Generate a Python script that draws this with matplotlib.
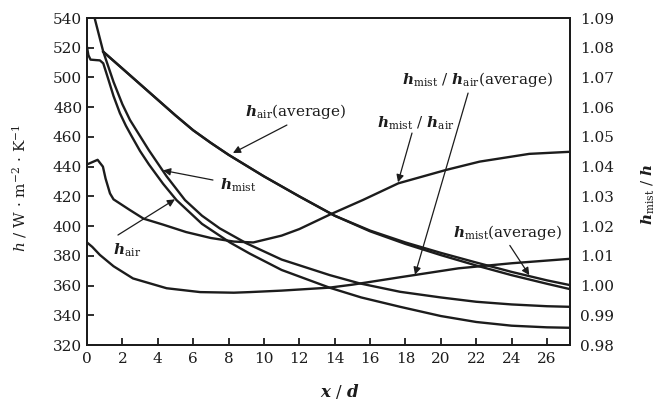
import matplotlib
matplotlib.use("Agg")
import matplotlib.pyplot as plt

plt.rcParams["font.family"] = "DejaVu Serif"
plt.rcParams["mathtext.fontset"] = "dejavuserif"
plt.rcParams["font.size"] = 11

INK = "#1c1c1c"

# --- data ---
# left axis, h in W/(m2 K)
x_air = [0, 0.08, 0.2, 0.5, 0.73, 0.92, 1.2, 1.5, 1.86, 2.2, 2.5, 3.0, 3.5, 4.3, 5.06,
         6.5, 8.08, 9.2, 11, 13.73, 15.5, 17.7, 20, 22, 24, 26, 27.3]
h_air = [520.5, 515, 512, 511.7, 511.5, 509.5, 499, 487.5, 476, 467.5, 461, 450.5, 441.5,
         428.5, 417.5, 401.5, 389, 381.5, 370.5, 358.5, 352, 345.7, 339.5, 335.5, 333,
         331.9, 331.6]

x_mist = [0.42, 0.92, 1.5, 2.0, 2.43, 3.5, 4.5, 5.54, 6.5, 7.5, 9.02, 11, 13.73, 15.4,
          17.7, 20, 22, 24, 26, 27.3]
h_mist = [540.5, 517.3, 497, 482, 471.4, 451, 433.5, 417.5, 407, 398.5, 388.4, 377.5,
          367, 361.5, 355.8, 352, 349.1, 347.3, 346.1, 345.7]

x_avg = [0.92, 2, 3, 4, 5, 6, 7, 8, 10, 12, 14, 16, 18, 20, 22, 24, 26, 27.3]
h_air_avg = [517.3, 506, 495.5, 485, 474.5, 464.5, 456, 448, 433.5, 420, 407, 396.5,
             388, 380.5, 373.5, 367, 361.2, 357.6]
h_mist_avg = [517.3, 506, 495.5, 485, 474.5, 464.5, 456, 448, 433.5, 420, 407, 397,
              389, 382, 375.5, 369.2, 363.5, 360.3]

# right axis, h_mist / h
x_ratio = [0.1, 0.6, 0.9, 1.05, 1.3, 1.5, 2.4, 3.2, 4.3, 5.6, 7.0, 8.3, 9.4, 11, 12,
           13.7, 15.6, 17.6, 20.3, 22.2, 25.0, 27.3]
ratio = [1.0410, 1.0423, 1.0400, 1.0360, 1.0310, 1.0290, 1.0255, 1.0225, 1.0205, 1.0180,
         1.0160, 1.0148, 1.0145, 1.0168, 1.0190, 1.0238, 1.0288, 1.0344, 1.0389, 1.0417,
         1.0443, 1.0450]

x_ratio_avg = [0, 0.3, 0.73, 1.5, 2.6, 4.5, 6.4, 8.3, 9.2, 11, 13.7, 15, 17.7, 21, 24, 27.3]
ratio_avg = [1.0145, 1.0130, 1.0103, 1.0065, 1.0024, 0.9991, 0.9978, 0.9976, 0.9978,
             0.9983, 0.9993, 1.0003, 1.0028, 1.0058, 1.0075, 1.0090]

x_ticks = list(range(0, 27, 2))
h_ticks = list(range(320, 541, 20))
r_ticks = [0.98 + 0.01 * i for i in range(12)]

fig = plt.figure(figsize=(6.6, 4.04), dpi=100)
ax = fig.add_axes([0.1318, 0.146, 0.7318, 0.8094])
ax2 = ax.twinx()

lw = 1.7
ax.plot(x_air, h_air, color=INK, lw=lw)
ax.plot(x_mist, h_mist, color=INK, lw=lw)
ax.plot(x_avg, h_air_avg, color=INK, lw=lw)
ax.plot(x_avg, h_mist_avg, color=INK, lw=lw)
ax2.plot(x_ratio, ratio, color=INK, lw=lw)
ax2.plot(x_ratio_avg, ratio_avg, color=INK, lw=lw)

ax.set_xlim(0, 27.3)
ax.set_ylim(320, 540)
ax2.set_ylim(0.98, 1.09)
ax.set_xticks(x_ticks)
ax.set_yticks(h_ticks)
ax2.set_yticks(r_ticks)
ax2.set_yticklabels([f"{v:.2f}" for v in r_ticks])

for a in (ax, ax2):
    for s in a.spines.values():
        s.set_linewidth(1.4)
        s.set_color(INK)
ax.tick_params(axis="both", direction="in", length=5, width=1.3, colors=INK, labelsize=11)
ax.tick_params(axis="x", pad=5)
ax2.tick_params(axis="y", length=0, colors=INK, labelsize=11, pad=7)

fig.text(0.03, 0.535, r"$\mathit{h}$ / W · m$^{-2}$ · K$^{-1}$", rotation=90,
         ha="center", va="center", fontsize=11, color=INK)
fig.text(0.982, 0.52, r"$\mathbfit{h}_{\mathrm{mist}}$ / $\mathbfit{h}$", rotation=90,
         ha="center", va="center", fontsize=11, color=INK)
fig.text(0.515, 0.03, r"$\mathbfit{x}$ / $\mathbfit{d}$", ha="center", va="center",
         fontsize=12, color=INK)

# labels and arrows (left-axis data coordinates)
arrow = dict(arrowstyle="-|>", lw=0.9, color=INK, mutation_scale=11, shrinkA=0, shrinkB=0)
notes = [
    (r"$\mathbfit{h}_{\mathrm{air}}$(average)", (8.93, 477), (11.3, 468), (8.25, 449.2)),
    (r"$\mathbfit{h}_{\mathrm{mist}}$", (7.5, 427.5), (7.12, 431), (4.3, 437.5)),
    (r"$\mathbfit{h}_{\mathrm{air}}$", (1.45, 383.5), (1.75, 394), (4.97, 418)),
    (r"$\mathbfit{h}_{\mathrm{mist}}$ / $\mathbfit{h}_{\mathrm{air}}$", (16.4, 469.5),
     (18.37, 462.6), (17.58, 429.5)),
    (r"$\mathbfit{h}_{\mathrm{mist}}$ / $\mathbfit{h}_{\mathrm{air}}$(average)", (17.8, 498.5),
     (21.54, 489.5), (18.54, 367.3)),
    (r"$\mathbfit{h}_{\mathrm{mist}}$(average)", (20.7, 396), (23.9, 387), (25.0, 367)),
]
for txt, pos, tail, tip in notes:
    ax.text(pos[0], pos[1], txt, ha="left", va="center", fontsize=11, color=INK)
    ax.annotate("", xy=tip, xytext=tail, arrowprops=arrow)

fig.savefig("out.png", dpi=100)
